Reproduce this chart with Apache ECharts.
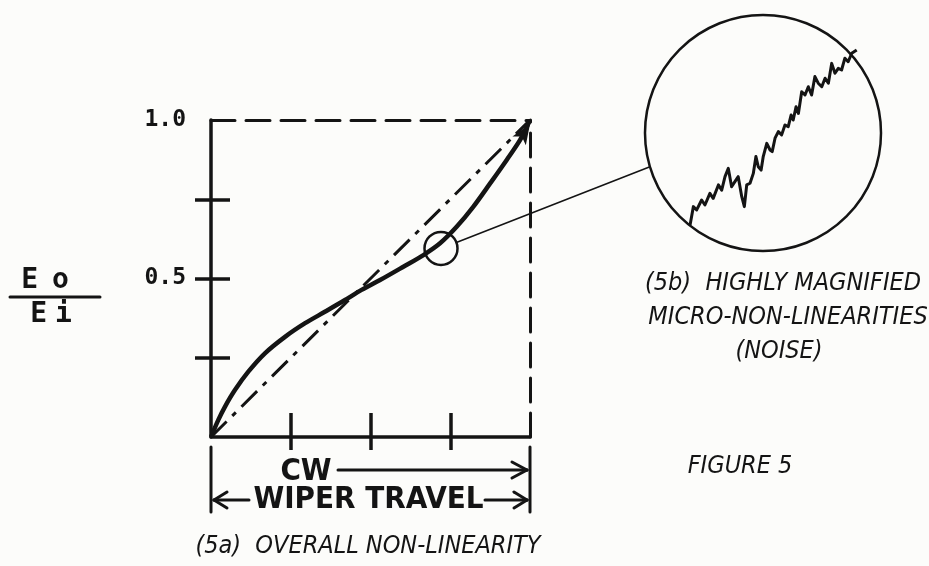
<!DOCTYPE html>
<html><head><meta charset="utf-8">
<script src="https://cdn.jsdelivr.net/npm/echarts@6/dist/echarts.min.js"></script>
<style>html,body{margin:0;padding:0;background:#fcfcfa;}#c{width:929px;height:566px;}</style>
</head><body><div id="c"></div>
<script>
// ---- data ----
const diagX = [0, 1];
const diagY = [0, 1];
const curveX = [0, 0.023, 0.044, 0.075, 0.117, 0.169, 0.232, 0.295, 0.357, 0.420, 0.472, 0.530, 0.603, 0.666, 0.718, 0.770, 0.822, 0.875, 0.927, 0.969, 1.0];
const curveY = [0, 0.054, 0.096, 0.148, 0.206, 0.264, 0.316, 0.359, 0.395, 0.432, 0.464, 0.495, 0.537, 0.574, 0.611, 0.663, 0.726, 0.800, 0.874, 0.937, 1.0];
const zoomPointX = [0.721];
const zoomPointY = [0.595];
const yTickVals = [0.25, 0.5, 0.75];
const yLabelVals = [0.5, 1.0];
const xTickVals = [0.25, 0.5, 0.75];
// magnified noise trace (arbitrary units 0-100 inside the magnifier)
const noiseX = [19.1, 20.5, 21.9, 24.0, 25.4, 27.5, 28.9, 31.1, 32.5, 33.9, 35.3, 36.7, 38.1, 39.5, 40.3, 41.0, 42.1, 43.1, 44.5, 45.9, 47.0, 48.0, 49.2, 50.1, 51.6, 53.0, 53.9, 55.1, 56.5, 57.9, 59.3, 60.7, 61.9, 62.8, 64.0, 65.0, 66.4, 67.8, 69.2, 70.6, 72.0, 73.4, 74.9, 76.3, 77.7, 79.1, 80.5, 81.9, 83.3, 84.7, 86.1, 87.6, 89.7];
const noiseY = [11.0, 18.8, 17.4, 21.6, 19.5, 24.4, 22.3, 28.0, 25.8, 31.5, 35.0, 27.2, 29.4, 31.5, 32.2, 23.0, 18.8, 28.0, 28.7, 32.9, 40.0, 35.7, 34.3, 40.0, 45.6, 42.8, 42.1, 47.8, 50.6, 49.2, 53.4, 52.7, 57.6, 55.5, 61.1, 58.3, 67.5, 66.1, 69.6, 66.1, 73.9, 71.1, 69.6, 73.2, 71.1, 79.5, 75.3, 77.4, 76.7, 81.7, 80.2, 83.8, 85.2];
const ylabelTop = 'Eo';
const ylabelBottom = 'Ei';
const captionB = ['(5b)  HIGHLY MAGNIFIED', 'MICRO-NON-LINEARITIES', '(NOISE)'];
const captionA = '(5a)  OVERALL NON-LINEARITY';
const figLabel = 'FIGURE 5';
const dimTop = 'CW';
const dimBottom = 'WIPER TRAVEL';

const INK = '#141414';
const zip = (a, b) => a.map((v, i) => [v, b[i]]);
const chart = echarts.init(document.getElementById('c'), null, {renderer: 'canvas'});

const hidden = {show: false};
const baseVal = {type: 'value', min: 0, max: 1, splitLine: hidden, axisLabel: hidden, axisTick: hidden, axisLine: hidden};

const curveData = zip(curveX, curveY).map((p, i, arr) => i === arr.length - 1
  ? {value: p, symbol: 'arrow', symbolSize: [12, 20], symbolRotate: -33, symbolOffset: [0, 4]}
  : {value: p});

const option = {
  backgroundColor: '#fcfcfa',
  animation: false,
  grid: [
    {left: 211, top: 120, width: 319, height: 317},
    {left: 645, top: 15, width: 236, height: 236}
  ],
  xAxis: [
    Object.assign({}, baseVal, {gridIndex: 0, position: 'bottom',
      axisLine: {show: true, onZero: false, lineStyle: {color: INK, width: 3.5}},
      axisTick: {show: true, inside: true, length: 24, customValues: xTickVals, lineStyle: {color: INK, width: 3.5}}}),
    Object.assign({}, baseVal, {gridIndex: 0, position: 'bottom',
      axisTick: {show: true, inside: false, length: 13, customValues: xTickVals, lineStyle: {color: INK, width: 3.5}}}),
    Object.assign({}, baseVal, {gridIndex: 0, position: 'top',
      axisLine: {show: true, onZero: false, lineStyle: {color: INK, width: 3, type: [24, 11]}}}),
    {type: 'value', gridIndex: 1, min: 0, max: 100, show: false}
  ],
  yAxis: [
    Object.assign({}, baseVal, {gridIndex: 0, position: 'left',
      axisLine: {show: true, onZero: false, lineStyle: {color: INK, width: 3.5}},
      axisTick: {show: true, inside: false, length: 16, customValues: yTickVals, lineStyle: {color: INK, width: 3.5}},
      axisLabel: {show: true, customValues: yLabelVals, margin: 25, formatter: v => Number(v).toFixed(1),
        fontFamily: "'DejaVu Sans Mono', monospace", fontWeight: 'bold', fontSize: 23, color: INK}}),
    Object.assign({}, baseVal, {gridIndex: 0, position: 'left',
      axisTick: {show: true, inside: true, length: 19, customValues: yTickVals, lineStyle: {color: INK, width: 3.5}}}),
    Object.assign({}, baseVal, {gridIndex: 0, position: 'right',
      axisLine: {show: true, onZero: false, lineStyle: {color: INK, width: 3, type: [24, 11]}}}),
    {type: 'value', gridIndex: 1, min: 0, max: 100, show: false}
  ],
  series: [
    {type: 'line', xAxisIndex: 0, yAxisIndex: 0, data: zip(diagX, diagY), symbol: 'none',
      lineStyle: {color: INK, width: 3, type: [22, 8, 5, 8]}, z: 3},
    {type: 'line', xAxisIndex: 0, yAxisIndex: 0, data: curveData, symbol: 'none', showSymbol: true, smooth: 0.3,
      itemStyle: {color: INK}, lineStyle: {color: INK, width: 4.5}, z: 4},
    {type: 'scatter', xAxisIndex: 0, yAxisIndex: 0, data: zip(zoomPointX, zoomPointY), symbol: 'circle', symbolSize: 33,
      itemStyle: {color: 'rgba(0,0,0,0)', borderColor: INK, borderWidth: 2.5, opacity: 1}, z: 5},
    {type: 'line', xAxisIndex: 3, yAxisIndex: 3, data: zip(noiseX, noiseY), symbol: 'none',
      lineStyle: {color: INK, width: 3, join: 'round'}, z: 5}
  ]
};
chart.setOption(option);

// ---- annotation graphics positioned through the axes ----
const P = (xi, yi, v) => chart.convertToPixel({xAxisIndex: xi, yAxisIndex: yi}, v);
const o = P(0, 0, [0, 0]);
const r1 = P(0, 0, [1, 0]);
const x0 = o[0], x1 = r1[0], yb = o[1];
const mc = P(3, 3, [50, 50]);
const mR = P(3, 3, [100, 50])[0] - mc[0];
const sc = P(0, 0, [zoomPointX[0], zoomPointY[0]]);
const sR = 16.5;
const th = Math.atan2(0.287, -0.958);
const pe = [mc[0] + mR * Math.cos(th), mc[1] + mR * Math.sin(th)];
const dx = pe[0] - sc[0], dy = pe[1] - sc[1], dl = Math.hypot(dx, dy);
const ps = [sc[0] + sR * dx / dl, sc[1] + sR * dy / dl];

const ln = (a, b, c, d, w) => ({type: 'line', shape: {x1: a, y1: b, x2: c, y2: d}, style: {stroke: INK, lineWidth: w || 3, lineCap: 'round'}, silent: true});
const tx = (s, x, y, font, align) => ({type: 'text', x: x, y: y, style: {text: s, font: font, fill: INK, textAlign: align || 'center', textVerticalAlign: 'middle'}, silent: true});
const capFont = "italic 25px 'Liberation Sans Narrow', 'DejaVu Sans Condensed', sans-serif";
const dimFont = "bold 31px 'Liberation Sans Narrow', 'DejaVu Sans Condensed', sans-serif";
const fracFont = "bold 28px 'DejaVu Sans Mono', monospace";
const fracText = (s, x, y, gap) => ({type: 'text', x: x, y: y, silent: true, style: {
  text: '{a|' + s.charAt(0) + '}{b|' + s.slice(1) + '}', textAlign: 'center', textVerticalAlign: 'middle', fill: INK,
  rich: {a: {font: fracFont, fill: INK, padding: [0, gap, 0, 0]}, b: {font: fracFont, fill: INK}}}});

const yCW = yb + 33, yWT = yb + 63;
const graphics = [
  {type: 'circle', shape: {cx: mc[0], cy: mc[1], r: mR}, style: {fill: 'none', stroke: INK, lineWidth: 2.5}, silent: true, z: 1},
  ln(ps[0], ps[1], pe[0], pe[1], 1.6),
  // extension lines
  ln(x0, yb + 10, x0, yb + 75, 3),
  ln(x1, yb + 10, x1, yb + 75, 3),
  // CW arrow
  ln(x0 + 127, yCW, x1 - 3, yCW, 3),
  ln(x1 - 3, yCW, x1 - 18, yCW - 8, 3),
  ln(x1 - 3, yCW, x1 - 18, yCW + 8, 3),
  // wiper travel arrows
  ln(x0 + 3, yWT, x0 + 38, yWT, 3),
  ln(x0 + 3, yWT, x0 + 16, yWT - 8, 3),
  ln(x0 + 3, yWT, x0 + 16, yWT + 8, 3),
  ln(x1 - 45, yWT, x1 - 3, yWT, 3),
  ln(x1 - 3, yWT, x1 - 16, yWT - 8, 3),
  ln(x1 - 3, yWT, x1 - 16, yWT + 8, 3),
  tx(dimTop, x0 + 95, yCW + 2, dimFont),
  tx(dimBottom, (x0 + x1) / 2 - 2, yWT, dimFont),
  // Eo / Ei
  fracText(ylabelTop, 45, 281, 14),
  ln(10, 297, 100, 297, 3),
  fracText(ylabelBottom, 51, 315, 8),
  // captions
  tx(captionB[0], 783, 283, capFont),
  tx(captionB[1], 788, 317, capFont),
  tx(captionB[2], 779, 351, capFont),
  tx(figLabel, 740, 466, capFont),
  tx(captionA, 368, 546, capFont)
];
chart.setOption({graphic: graphics});
</script></body></html>
